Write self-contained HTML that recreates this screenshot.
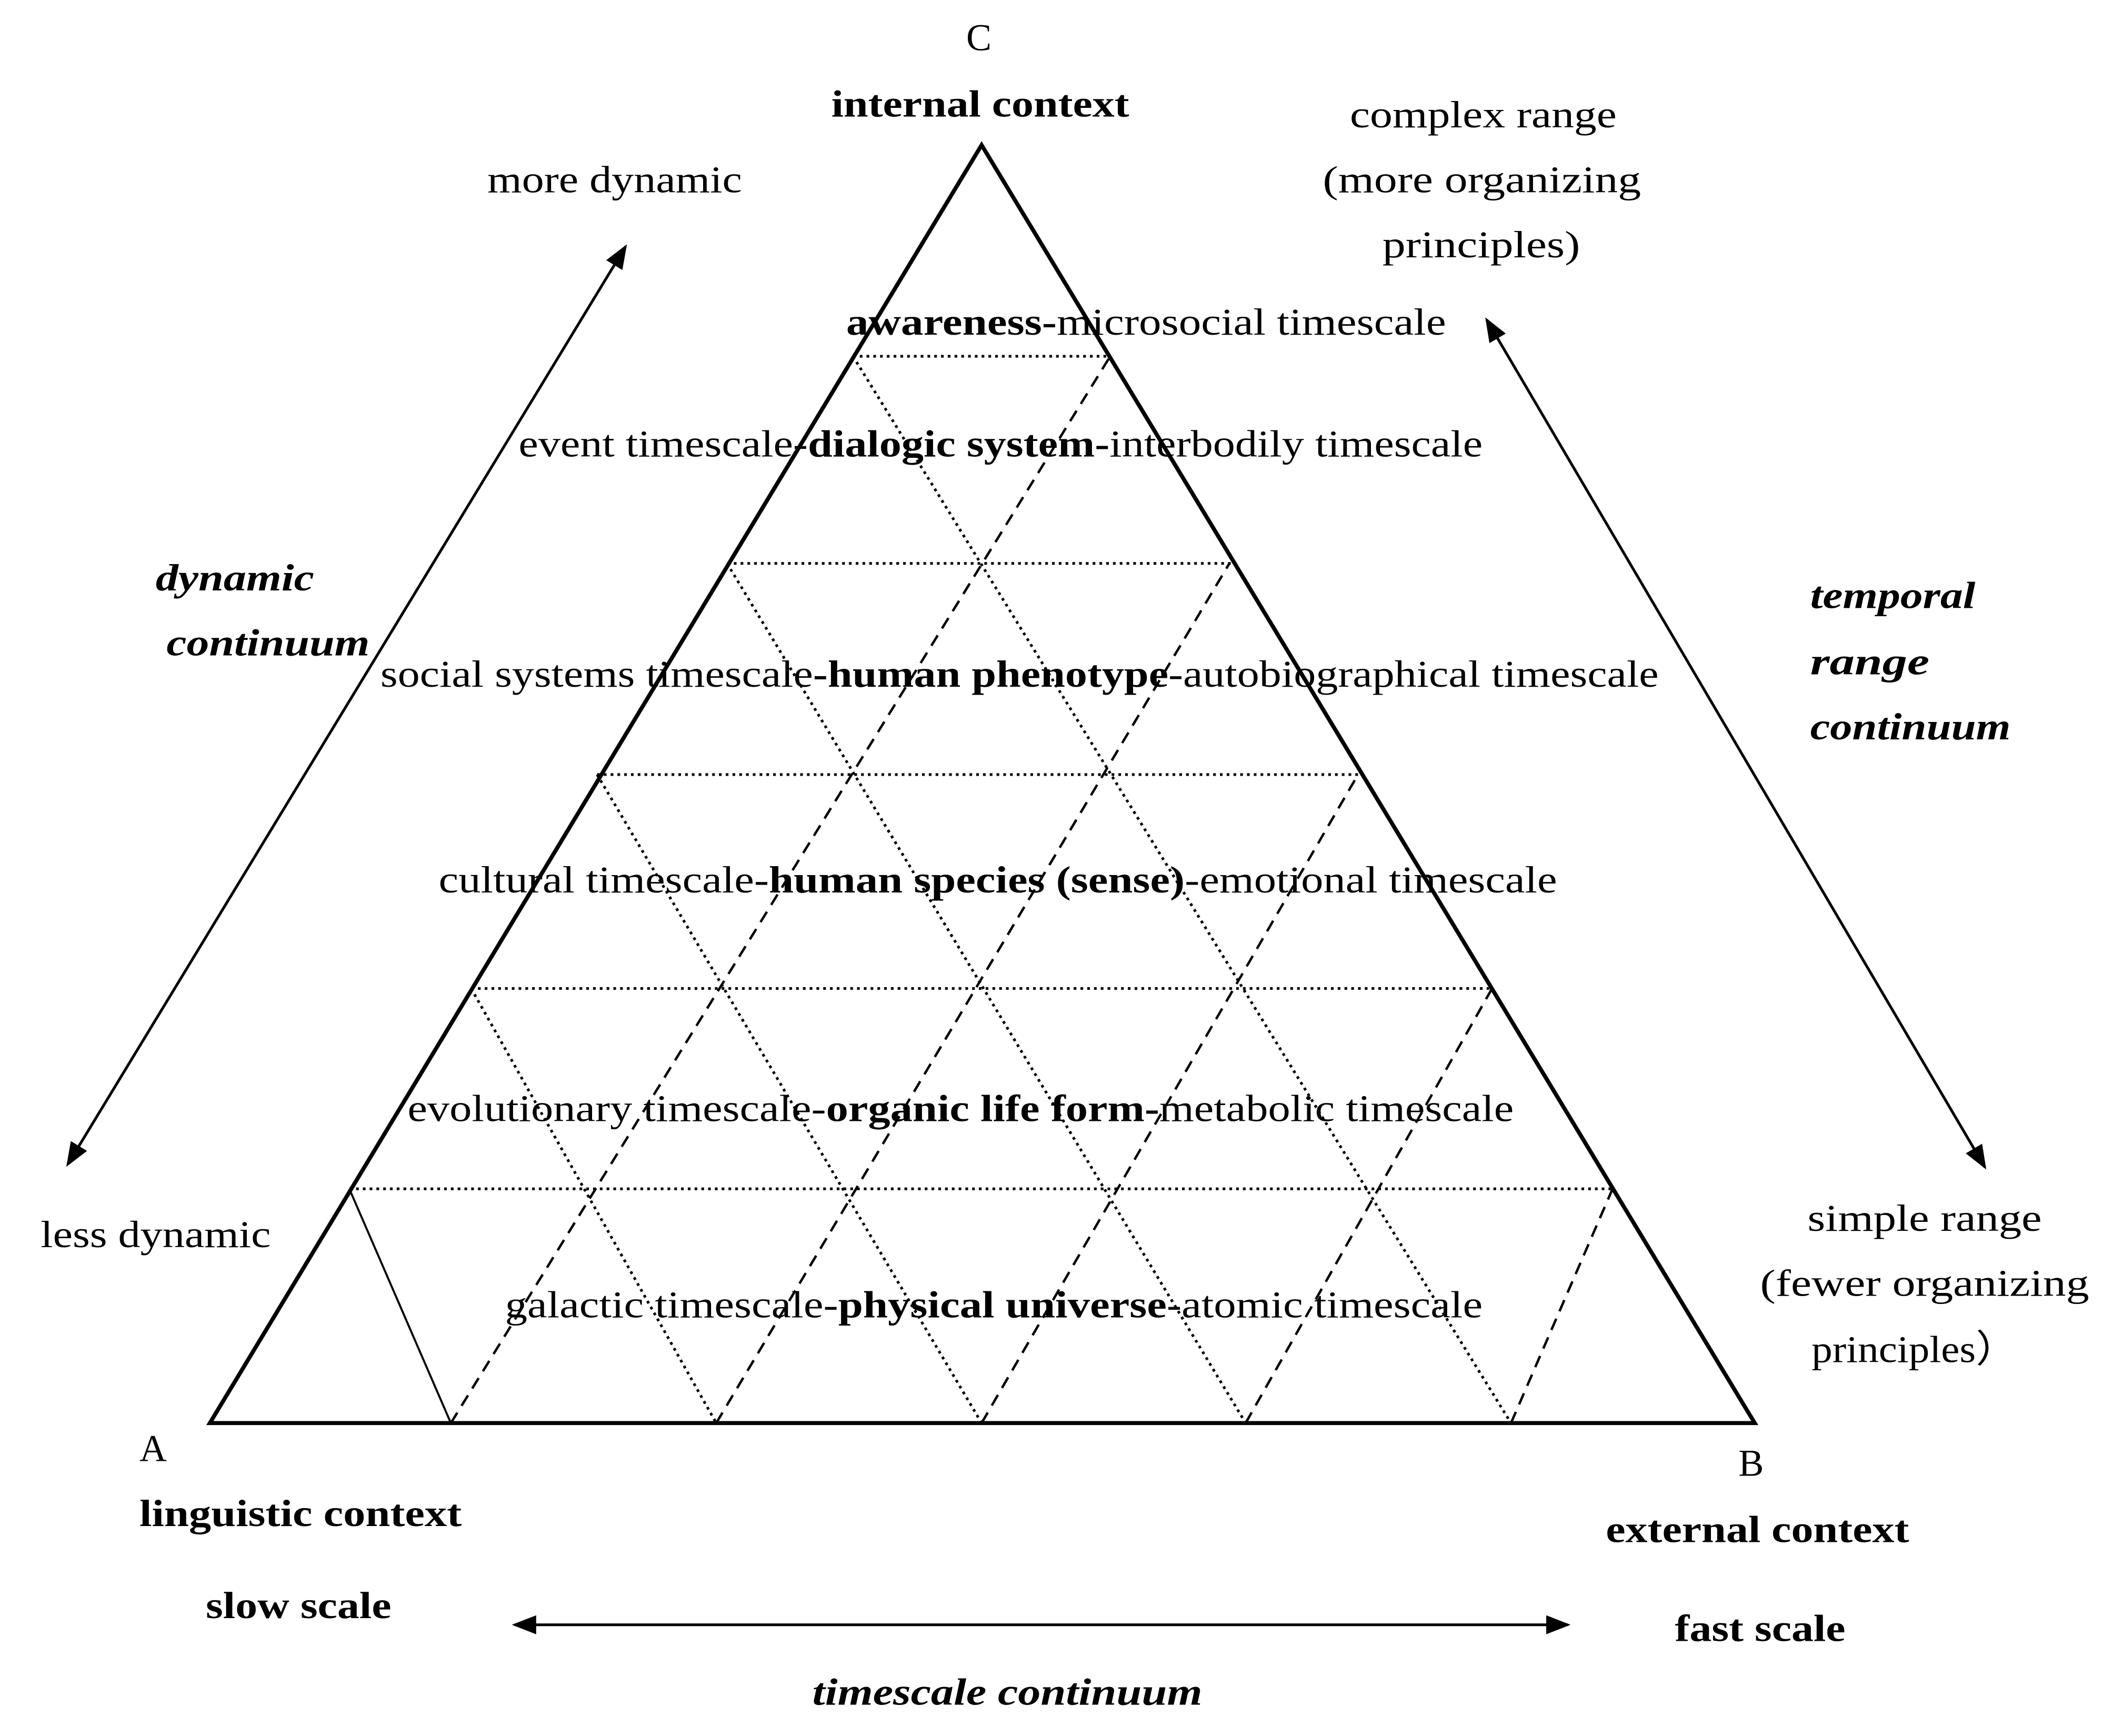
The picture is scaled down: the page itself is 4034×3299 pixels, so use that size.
<!DOCTYPE html>
<html><head><meta charset="utf-8"><style>
html,body{margin:0;padding:0;background:#fff;}
svg{display:block;}
text{font-family:"Liberation Serif","Times New Roman",serif;font-size:28px;fill:#000;}
.b{font-weight:bold;}
.bi{font-weight:bold;font-style:italic;}
</style></head><body>
<svg width="4034" height="3299" viewBox="0 0 1568 1282" xmlns="http://www.w3.org/2000/svg">
<defs>
<marker id="ah" markerWidth="18" markerHeight="14" refX="16" refY="7" orient="auto-start-reverse" markerUnits="userSpaceOnUse">
<path d="M0,0 L18,7 L0,14 z" fill="#000"/></marker>
</defs>
<polygon points="155,1051 1296,1051 725,107" fill="none" stroke="#000" stroke-width="3"/>
<g stroke="#000" stroke-width="2" stroke-dasharray="2,3" fill="none">
<line x1="630" y1="263" x2="820" y2="263"/>
<line x1="537" y1="416" x2="910" y2="416"/>
<line x1="441" y1="572" x2="1004" y2="572"/>
<line x1="348" y1="730" x2="1102" y2="730"/>
<line x1="258" y1="878" x2="1192" y2="878"/>
<line x1="630" y1="263" x2="1116" y2="1051"/>
<line x1="537" y1="416" x2="920" y2="1051"/>
<line x1="441" y1="572" x2="725" y2="1051"/>
<line x1="348" y1="730" x2="529" y2="1051"/>
</g>
<line x1="258" y1="878" x2="333" y2="1051" stroke="#000" stroke-width="1.5"/>
<g stroke="#000" stroke-width="1.8" stroke-dasharray="9,6" fill="none">
<line x1="333" y1="1051" x2="820" y2="263"/>
<line x1="529" y1="1051" x2="908" y2="416"/>
<line x1="725" y1="1051" x2="1003" y2="572"/>
<line x1="920" y1="1051" x2="1102" y2="730"/>
<line x1="1116" y1="1051" x2="1191" y2="878"/>
</g>
<g stroke="#000" stroke-width="2" fill="none">
<line x1="50" y1="860" x2="462" y2="182" marker-start="url(#ah)" marker-end="url(#ah)"/>
<line x1="1098" y1="236" x2="1466" y2="862" marker-start="url(#ah)" marker-end="url(#ah)"/>
<line x1="380" y1="1200" x2="1158" y2="1200" marker-start="url(#ah)" marker-end="url(#ah)"/>
</g>
<text x="723" y="37" text-anchor="middle">C</text>
<text class="b" x="614" y="86" textLength="220" lengthAdjust="spacingAndGlyphs">internal context</text>
<text x="997" y="94" textLength="197" lengthAdjust="spacingAndGlyphs">complex range</text>
<text x="977" y="142" textLength="235" lengthAdjust="spacingAndGlyphs">(more organizing</text>
<text x="1021" y="190" textLength="146" lengthAdjust="spacingAndGlyphs">principles)</text>
<text x="360" y="142" textLength="188" lengthAdjust="spacingAndGlyphs">more dynamic</text>

<text x="625" y="247" textLength="443" lengthAdjust="spacingAndGlyphs"><tspan class="b">awareness-</tspan>microsocial timescale</text>
<text x="383" y="337" textLength="712" lengthAdjust="spacingAndGlyphs">event timescale-<tspan class="b">dialogic system-</tspan>interbodily timescale</text>
<text x="281" y="507" textLength="944" lengthAdjust="spacingAndGlyphs">social systems timescale<tspan class="b">-human phenotype</tspan>-autobiographical timescale</text>
<text x="324" y="659" textLength="826" lengthAdjust="spacingAndGlyphs">cultural timescale-<tspan class="b">human species (sense)</tspan>-emotional timescale</text>
<text x="301" y="828" textLength="817" lengthAdjust="spacingAndGlyphs">evolutionary timescale-<tspan class="b">organic life form-</tspan>metabolic timescale</text>
<text x="373" y="973" textLength="722" lengthAdjust="spacingAndGlyphs">galactic timescale-<tspan class="b">physical universe</tspan>-atomic timescale</text>

<text class="bi" x="115" y="436" textLength="117" lengthAdjust="spacingAndGlyphs">dynamic</text>
<text class="bi" x="123" y="484" textLength="150" lengthAdjust="spacingAndGlyphs">continuum</text>
<text class="bi" x="1337" y="449" textLength="122" lengthAdjust="spacingAndGlyphs">temporal</text>
<text class="bi" x="1337" y="498" textLength="88" lengthAdjust="spacingAndGlyphs">range</text>
<text class="bi" x="1337" y="546" textLength="148" lengthAdjust="spacingAndGlyphs">continuum</text>

<text x="30" y="921" textLength="170" lengthAdjust="spacingAndGlyphs">less dynamic</text>
<text x="1335" y="909" textLength="173" lengthAdjust="spacingAndGlyphs">simple range</text>
<text x="1300" y="957" textLength="243" lengthAdjust="spacingAndGlyphs">(fewer organizing</text>
<text x="1338" y="1006" textLength="152" lengthAdjust="spacingAndGlyphs">principles）</text>

<text x="103" y="1079">A</text>
<text class="b" x="103" y="1127" textLength="238" lengthAdjust="spacingAndGlyphs">linguistic context</text>
<text x="1284" y="1090">B</text>
<text class="b" x="1186" y="1139" textLength="224" lengthAdjust="spacingAndGlyphs">external context</text>
<text class="b" x="152" y="1195" textLength="137" lengthAdjust="spacingAndGlyphs">slow scale</text>
<text class="b" x="1237" y="1212" textLength="126" lengthAdjust="spacingAndGlyphs">fast scale</text>
<text class="bi" x="600" y="1259" textLength="288" lengthAdjust="spacingAndGlyphs">timescale continuum</text>
</svg>
</body></html>
